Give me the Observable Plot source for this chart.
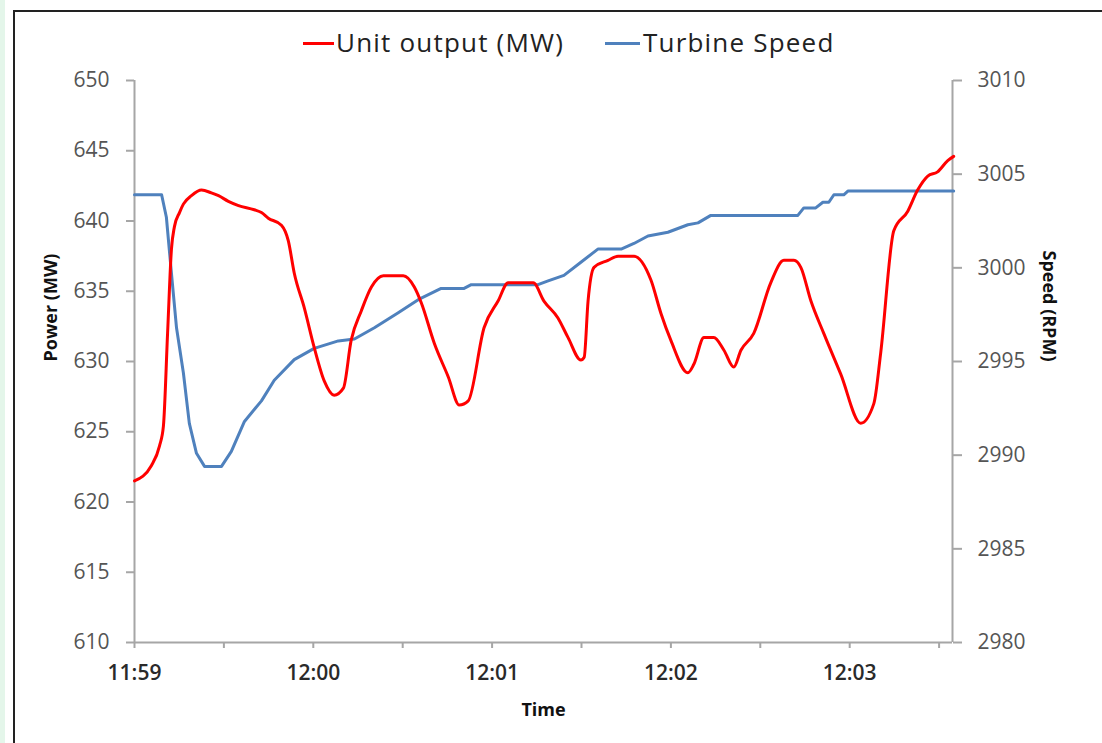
<!DOCTYPE html>
<html>
<head>
<meta charset="utf-8">
<script src="https://cdn.jsdelivr.net/npm/d3@7"></script>
<script src="https://cdn.jsdelivr.net/npm/@observablehq/plot@0.6"></script>
<style>
  html, body { margin: 0; padding: 0; background: #fff; width: 1102px; height: 743px; overflow: hidden; }
  body { position: relative; font-family: "Open Sans", "DejaVu Sans", sans-serif; }
  #strip { position: absolute; left: 0; top: 0; width: 5px; height: 743px; background: #e4f6ea; }
  #frameTop { position: absolute; left: 13px; top: 10px; width: 1089px; height: 0; border-top: 2.5px solid #222; }
  #frameLeft { position: absolute; left: 13px; top: 10px; width: 0; height: 733px; border-left: 2.5px solid #222; }
  #legend { position: relative; height: 62px; }
  .sw { position: absolute; height: 3px; top: 42px; }
  .lt { position: absolute; top: 26px; font-size: 26px; color: #222; line-height: 32px; letter-spacing: 1.2px; }
  #chart { position: relative; }
</style>
</head>
<body>
<div id="strip"></div>
<div id="frameTop"></div>
<div id="frameLeft"></div>
<div id="legend">
  <div class="sw" style="left:303px;width:31px;background:#ff0000"></div>
  <div class="lt" id="l1" style="left:336px">Unit output (MW)</div>
  <div class="sw" style="left:605px;width:35px;background:#4f81bd"></div>
  <div class="lt" id="l2" style="left:643px">Turbine Speed</div>
</div>
<div id="chart"></div>
<script>
// ---- data (seconds after 11:59:00) ----
const powerTime = [0, 5.7, 8.4, 9.7, 11.1, 12.4, 13.4, 15.1, 16.4, 19.1, 22.5, 25.8, 28.2, 31.5, 34.9, 40.2, 42.6, 44.9, 49.3, 51.6, 53.6, 57.0, 60.3, 63.7, 67.0, 70.1, 72.7, 76.1, 79.5, 83.5, 90.2, 93.9, 96.2, 100.6, 105.3, 109.0, 112.0, 117.3, 122.0, 125.4, 133.8, 137.4, 142.1, 145.5, 149.8, 150.9, 152.2, 154.2, 158.9, 162.3, 167.6, 173.3, 176.7, 180.0, 185.7, 187.7, 191.1, 194.4, 197.8, 201.1, 203.5, 207.8, 213.5, 217.9, 221.3, 223.6, 227.0, 231.3, 237.0, 243.7, 248.1, 250.4, 254.8, 259.5, 262.8, 266.2, 269.5, 272.9, 274.9];
const powerMW = [621.5, 622.6, 624.0, 625.4, 632.0, 638.0, 639.6, 640.6, 641.2, 641.8, 642.2, 642.0, 641.8, 641.4, 641.1, 640.8, 640.6, 640.2, 639.7, 638.6, 636.3, 633.8, 631.0, 628.6, 627.6, 628.1, 631.5, 633.6, 635.3, 636.1, 636.1, 635.3, 634.2, 631.3, 628.9, 626.9, 627.2, 632.4, 634.3, 635.6, 635.6, 634.3, 633.1, 631.7, 630.1, 630.3, 634.3, 636.7, 637.2, 637.5, 637.5, 635.8, 633.4, 631.5, 629.2, 629.8, 631.7, 631.7, 630.8, 629.6, 630.8, 632.0, 635.6, 637.2, 637.2, 636.7, 634.3, 632.0, 629.1, 625.6, 627.0, 630.6, 639.3, 640.7, 642.2, 643.2, 643.5, 644.3, 644.6];

const speedTime = [0, 9.1, 10.7, 12.4, 14.1, 16.4, 18.4, 20.8, 23.5, 29.2, 32.5, 36.9, 42.6, 46.9, 53.6, 60.3, 68.4, 73.8, 80.5, 88.5, 95.2, 102.9, 110.6, 113.0, 135.4, 138.8, 144.1, 149.8, 155.5, 163.3, 167.6, 172.3, 179.0, 185.7, 189.1, 193.4, 222.6, 224.6, 228.6, 231.0, 233.0, 234.7, 238.0, 239.4, 274.9];
const speedRPM = [3003.9, 3003.9, 3002.7, 2999.7, 2996.8, 2994.4, 2991.7, 2990.1, 2989.4, 2989.4, 2990.2, 2991.8, 2992.9, 2994.0, 2995.1, 2995.7, 2996.1, 2996.2, 2996.8, 2997.6, 2998.3, 2998.9, 2998.9, 2999.1, 2999.1, 2999.3, 2999.6, 3000.3, 3001.0, 3001.0, 3001.3, 3001.7, 3001.9, 3002.3, 3002.4, 3002.8, 3002.8, 3003.2, 3003.2, 3003.5, 3003.5, 3003.9, 3003.9, 3004.1, 3004.1];

const powerTicks = [610, 615, 620, 625, 630, 635, 640, 645, 650];
const speedTicks = [2980, 2985, 2990, 2995, 3000, 3005, 3010];

// ---- helpers ----
const t0 = Date.UTC(2020, 0, 1, 11, 59, 0);
const toDate = s => new Date(t0 + s * 1000);
const toP = s => 610 + (s - 2980) * 40 / 30;
const fromP = p => 2980 + (p - 610) * 30 / 40;
const fmt = d3.utcFormat("%H:%M");

const powerData = powerTime.map((t, i) => ({t: toDate(t), v: powerMW[i]}));
const speedData = speedTime.map((t, i) => ({t: toDate(t), v: toP(speedRPM[i])}));

const xStart = toDate(0), xEnd = toDate(274.5);
const xTicks = d3.range(0, 271, 30).map(toDate);

const chart = Plot.plot({
  width: 1102,
  height: 681,
  marginLeft: 134,
  marginRight: 150,
  marginTop: 18,
  marginBottom: 101,
  style: {fontFamily: "'Open Sans', 'DejaVu Sans', sans-serif", background: "transparent", overflow: "visible"},
  x: {type: "utc", domain: [xStart, xEnd]},
  y: {domain: [610, 650]},
  marks: [
    Plot.ruleY([610], {stroke: "#a6a6a6", strokeWidth: 2}),
    Plot.ruleX([xStart, xEnd], {stroke: "#a6a6a6", strokeWidth: 2}),
    Plot.axisX(xTicks, {tickSize: 6, tickPadding: 17, stroke: "#a6a6a6", strokeWidth: 2, fill: "#2a2a2a", fontSize: 21, fontWeight: 600, tickFormat: d => d.getUTCSeconds() ? "" : fmt(d), label: null}),
    Plot.axisY(powerTicks, {anchor: "left", tickSize: 8, tickPadding: 17, stroke: "#a6a6a6", strokeWidth: 2, fill: "#555", fontSize: 21, label: null}),
    Plot.axisY(speedTicks.map(toP), {anchor: "right", tickSize: 9, tickPadding: 16, stroke: "#a6a6a6", strokeWidth: 2, fill: "#555", fontSize: 21, tickFormat: p => String(Math.round(fromP(p))), label: null}),
    Plot.line(speedData, {x: "t", y: "v", stroke: "#4f81bd", strokeWidth: 3}),
    Plot.line(powerData, {x: "t", y: "v", stroke: "#ff0000", strokeWidth: 3, curve: "monotone-x"}),
    Plot.text(["Power (MW)"], {frameAnchor: "left", dx: -83, rotate: -90, fontSize: 18, fontWeight: "bold", fill: "#111"}),
    Plot.text(["Speed (RPM)"], {frameAnchor: "right", dx: 96, rotate: 90, fontSize: 18, fontWeight: "bold", fill: "#111"}),
    Plot.text(["Time"], {frameAnchor: "bottom", dy: 73, fontSize: 18, fontWeight: "bold", fill: "#111"})
  ]
});
document.getElementById("chart").appendChild(chart);
</script>
</body>
</html>
